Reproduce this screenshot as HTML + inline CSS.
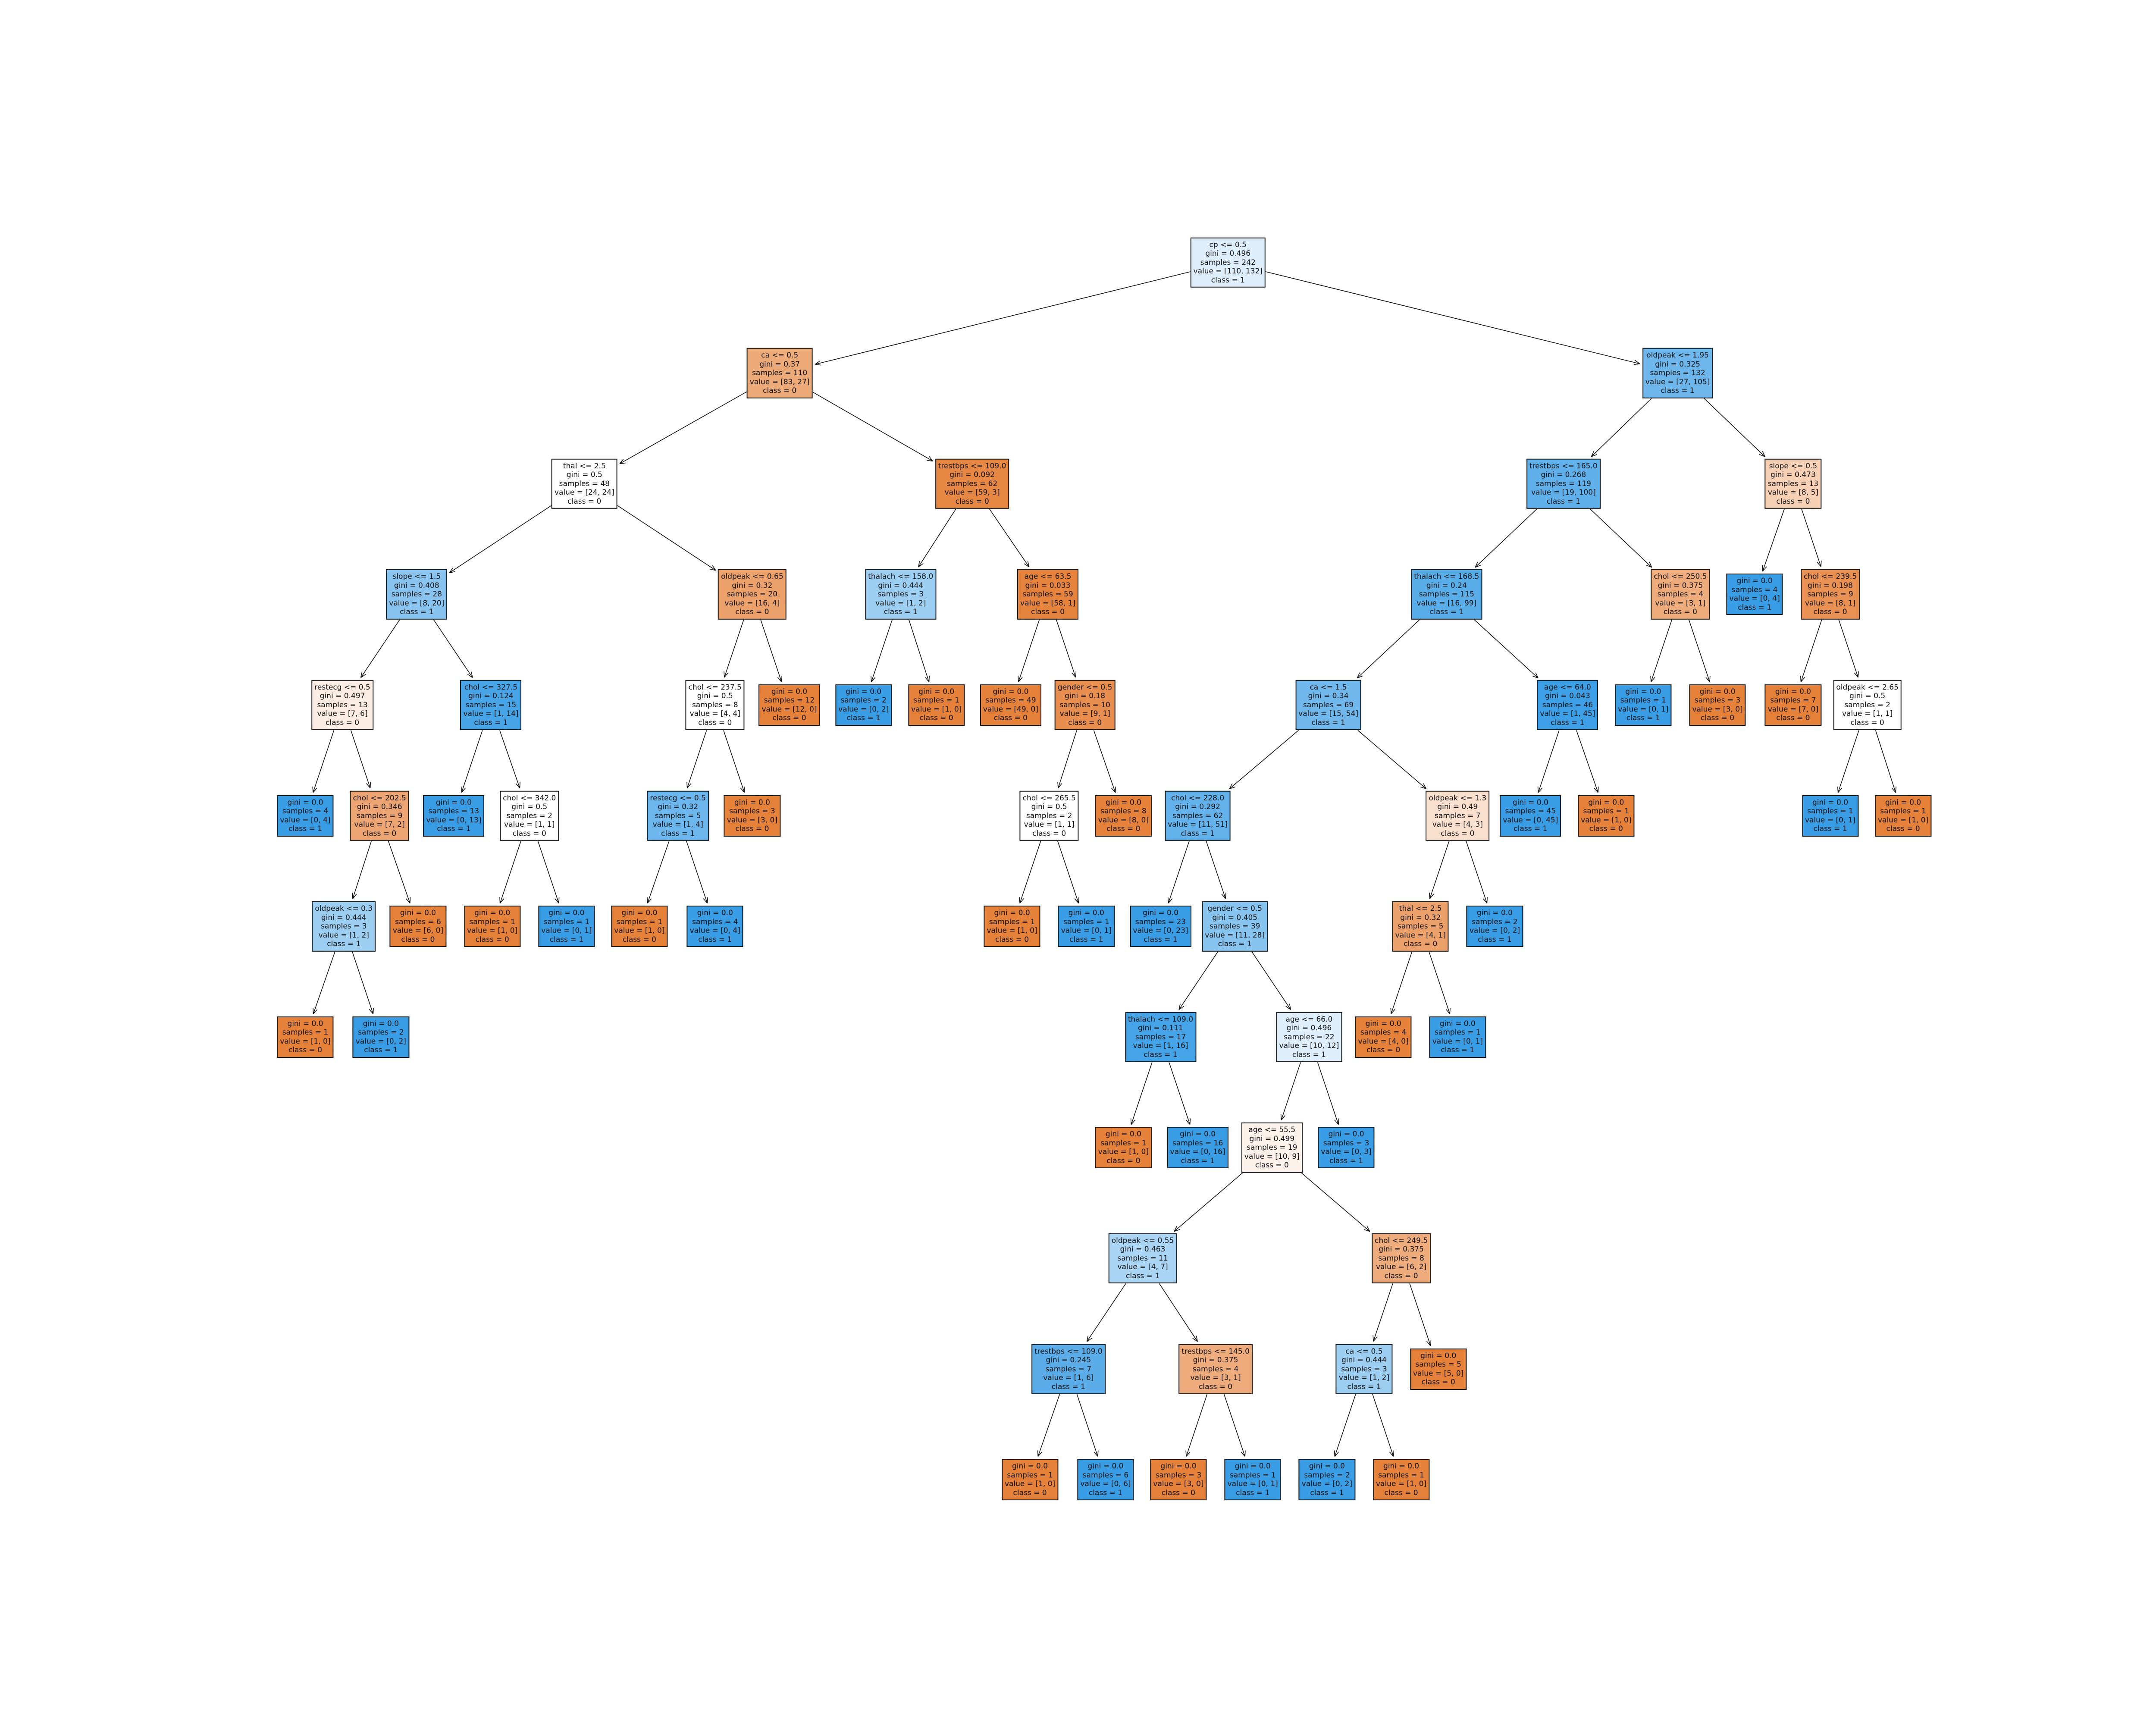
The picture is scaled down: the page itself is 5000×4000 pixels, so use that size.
<!DOCTYPE html>
<html><head><meta charset="utf-8">
<style>
html,body{margin:0;padding:0;background:#fff;}
#c{position:relative;width:5000px;height:4000px;overflow:hidden;background:#fff;}
svg{position:absolute;left:0;top:0;}
.n{position:absolute;transform:translate(-50%,-50%);border:2px solid #1a1a1a;padding:5px 5px;font-family:"DejaVu Sans","Liberation Sans",sans-serif;font-size:17px;line-height:20.5px;text-align:center;white-space:nowrap;color:#111;}
</style></head><body>
<div id="c"><svg id="s" width="5000" height="4000"></svg></div>
<script>
var S=3.189,Y0=608.5,DY=256.6;
function leaf(n,a,b){return "gini = 0.0|samples = "+n+"|value = ["+a+", "+b+"]|class = "+(a>b?0:1);}
var N=[
[0,893,"cp <= 0.5|gini = 0.496|samples = 242|value = [110, 132]|class = 1","B",.165,-1],
[1,567,"ca <= 0.5|gini = 0.37|samples = 110|value = [83, 27]|class = 0","O",.675,0],
[1,1220,"oldpeak <= 1.95|gini = 0.325|samples = 132|value = [27, 105]|class = 1","B",.742,0],
[2,425,"thal <= 2.5|gini = 0.5|samples = 48|value = [24, 24]|class = 0","O",0,1],
[2,707,"trestbps <= 109.0|gini = 0.092|samples = 62|value = [59, 3]|class = 0","O",.949,1],
[2,1137,"trestbps <= 165.0|gini = 0.268|samples = 119|value = [19, 100]|class = 1","B",.81,2],
[2,1304,"slope <= 0.5|gini = 0.473|samples = 13|value = [8, 5]|class = 0","O",.375,2],
[3,303,"slope <= 1.5|gini = 0.408|samples = 28|value = [8, 20]|class = 1","B",.6,3],
[3,547,"oldpeak <= 0.65|gini = 0.32|samples = 20|value = [16, 4]|class = 0","O",.75,3],
[3,655,"thalach <= 158.0|gini = 0.444|samples = 3|value = [1, 2]|class = 1","B",.5,4],
[3,762,"age <= 63.5|gini = 0.033|samples = 59|value = [58, 1]|class = 0","O",.983,4],
[3,1052,"thalach <= 168.5|gini = 0.24|samples = 115|value = [16, 99]|class = 1","B",.838,5],
[3,1222,"chol <= 250.5|gini = 0.375|samples = 4|value = [3, 1]|class = 0","O",.667,5],
[3,1276,leaf(4,0,4),"B",1,6],
[3,1331,"chol <= 239.5|gini = 0.198|samples = 9|value = [8, 1]|class = 0","O",.875,6],
[4,249,"restecg <= 0.5|gini = 0.497|samples = 13|value = [7, 6]|class = 0","O",.143,7],
[4,357,"chol <= 327.5|gini = 0.124|samples = 15|value = [1, 14]|class = 1","B",.929,7],
[4,520,"chol <= 237.5|gini = 0.5|samples = 8|value = [4, 4]|class = 0","O",0,8],
[4,574,leaf(12,12,0),"O",1,8],
[4,628,leaf(2,0,2),"B",1,9],
[4,681,leaf(1,1,0),"O",1,9],
[4,735,leaf(49,49,0),"O",1,10],
[4,789,"gender <= 0.5|gini = 0.18|samples = 10|value = [9, 1]|class = 0","O",.889,10],
[4,966,"ca <= 1.5|gini = 0.34|samples = 69|value = [15, 54]|class = 1","B",.722,11],
[4,1140,"age <= 64.0|gini = 0.043|samples = 46|value = [1, 45]|class = 1","B",.978,11],
[4,1195,leaf(1,0,1),"B",1,12],
[4,1249,leaf(3,3,0),"O",1,12],
[4,1304,leaf(7,7,0),"O",1,14],
[4,1358,"oldpeak <= 2.65|gini = 0.5|samples = 2|value = [1, 1]|class = 0","O",0,14],
[5,222,leaf(4,0,4),"B",1,15],
[5,276,"chol <= 202.5|gini = 0.346|samples = 9|value = [7, 2]|class = 0","O",.714,15],
[5,330,leaf(13,0,13),"B",1,16],
[5,385,"chol <= 342.0|gini = 0.5|samples = 2|value = [1, 1]|class = 0","O",0,16],
[5,493,"restecg <= 0.5|gini = 0.32|samples = 5|value = [1, 4]|class = 1","B",.75,17],
[5,547,leaf(3,3,0),"O",1,17],
[5,763,"chol <= 265.5|gini = 0.5|samples = 2|value = [1, 1]|class = 0","O",0,22],
[5,817,leaf(8,8,0),"O",1,22],
[5,871,"chol <= 228.0|gini = 0.292|samples = 62|value = [11, 51]|class = 1","B",.784,23],
[5,1060,"oldpeak <= 1.3|gini = 0.49|samples = 7|value = [4, 3]|class = 0","O",.25,23],
[5,1113,leaf(45,0,45),"B",1,24],
[5,1168,leaf(1,1,0),"O",1,24],
[5,1331,leaf(1,0,1),"B",1,28],
[5,1384,leaf(1,1,0),"O",1,28],
[6,250,"oldpeak <= 0.3|gini = 0.444|samples = 3|value = [1, 2]|class = 1","B",.5,30],
[6,304,leaf(6,6,0),"O",1,30],
[6,358,leaf(1,1,0),"O",1,32],
[6,412,leaf(1,0,1),"B",1,32],
[6,465,leaf(1,1,0),"O",1,33],
[6,520,leaf(4,0,4),"B",1,33],
[6,736,leaf(1,1,0),"O",1,35],
[6,790,leaf(1,0,1),"B",1,35],
[6,844,leaf(23,0,23),"B",1,37],
[6,898,"gender <= 0.5|gini = 0.405|samples = 39|value = [11, 28]|class = 1","B",.607,37],
[6,1033,"thal <= 2.5|gini = 0.32|samples = 5|value = [4, 1]|class = 0","O",.75,38],
[6,1087,leaf(2,0,2),"B",1,38],
[7,222,leaf(1,1,0),"O",1,43],
[7,277,leaf(2,0,2),"B",1,43],
[7,844,"thalach <= 109.0|gini = 0.111|samples = 17|value = [1, 16]|class = 1","B",.9375,52],
[7,952,"age <= 66.0|gini = 0.496|samples = 22|value = [10, 12]|class = 1","B",.167,52],
[7,1006,leaf(4,4,0),"O",1,53],
[7,1060,leaf(1,0,1),"B",1,53],
[8,817,leaf(1,1,0),"O",1,57],
[8,871,leaf(16,0,16),"B",1,57],
[8,925,"age <= 55.5|gini = 0.499|samples = 19|value = [10, 9]|class = 0","O",.1,58],
[8,979,leaf(3,0,3),"B",1,58],
[9,831,"oldpeak <= 0.55|gini = 0.463|samples = 11|value = [4, 7]|class = 1","B",.429,63],
[9,1019,"chol <= 249.5|gini = 0.375|samples = 8|value = [6, 2]|class = 0","O",.667,63],
[10,777,"trestbps <= 109.0|gini = 0.245|samples = 7|value = [1, 6]|class = 1","B",.833,65],
[10,884,"trestbps <= 145.0|gini = 0.375|samples = 4|value = [3, 1]|class = 0","O",.667,65],
[10,992,"ca <= 0.5|gini = 0.444|samples = 3|value = [1, 2]|class = 1","B",.5,66],
[10,1046,leaf(5,5,0),"O",1,66],
[11,749,leaf(1,1,0),"O",1,67],
[11,804,leaf(6,0,6),"B",1,67],
[11,857,leaf(3,3,0),"O",1,68],
[11,911,leaf(1,0,1),"B",1,68],
[11,965,leaf(2,0,2),"B",1,69],
[11,1019,leaf(1,1,0),"O",1,69]
];
var c=document.getElementById("c"),s=document.getElementById("s"),E=[];
function col(t,a){var b=t=="O"?[229,129,57]:[57,157,229];return "rgb("+b.map(function(v){return Math.round(255+a*(v-255));}).join(",")+")";}
N.forEach(function(n){
 var d=document.createElement("div");d.className="n";
 var x=n[1]*S,y=Y0+n[0]*DY;
 d.style.left=x+"px";d.style.top=y+"px";d.style.background=col(n[3],n[4]);
 d.innerHTML=n[2].split("|").join("<br>");
 c.appendChild(d);E.push({x:x,y:y,d:d});
});
function clip(cx,cy,w,h,dx,dy){var tx=dx?Math.abs((w/2)/dx):1e9,ty=dy?Math.abs((h/2)/dy):1e9;return Math.min(tx,ty);}
var ns="http://www.w3.org/2000/svg",p="";
N.forEach(function(n,i){
 if(n[5]<0)return;
 var a=E[n[5]],b=E[i];
 var dx=b.x-a.x,dy=b.y-a.y,L=Math.sqrt(dx*dx+dy*dy),ux=dx/L,uy=dy/L;
 var wa=a.d.offsetWidth,ha=a.d.offsetHeight,wb=b.d.offsetWidth,hb=b.d.offsetHeight;
 var t1=clip(0,0,wa,ha,dx,dy),t2=clip(0,0,wb,hb,dx,dy);
 var sx=a.x+dx*t1,sy=a.y+dy*t1,ex=b.x-dx*t2-ux*6,ey=b.y-dy*t2-uy*6;
 p+="M"+sx.toFixed(1)+" "+sy.toFixed(1)+"L"+ex.toFixed(1)+" "+ey.toFixed(1);
 var hl=14,an=0.38,ang=Math.atan2(uy,ux);
 for(var k=-1;k<=1;k+=2){var g=ang+Math.PI+k*an;p+="M"+ex.toFixed(1)+" "+ey.toFixed(1)+"L"+(ex+hl*Math.cos(g)).toFixed(1)+" "+(ey+hl*Math.sin(g)).toFixed(1);}
});
var path=document.createElementNS(ns,"path");path.setAttribute("d",p);path.setAttribute("stroke","#111");path.setAttribute("stroke-width","1.6");path.setAttribute("fill","none");
s.appendChild(path);
</script>
</body></html>
